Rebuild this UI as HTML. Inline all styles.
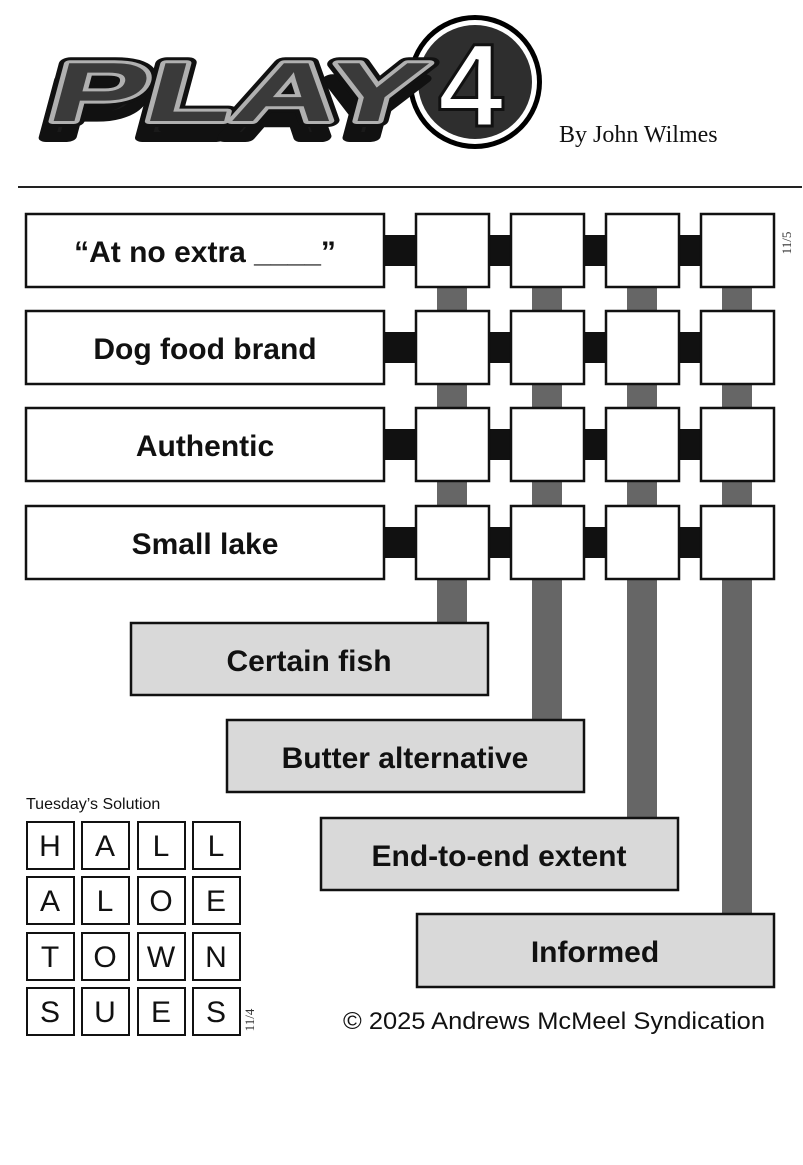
<!DOCTYPE html>
<html><head><meta charset="utf-8"><style>
html,body{margin:0;padding:0;background:#fff;}
svg{display:block;}
</style></head><body>
<svg width="803" height="1165" viewBox="0 0 803 1165" xmlns="http://www.w3.org/2000/svg">
<rect width="803" height="1165" fill="#fff"/>
<g font-family="Liberation Sans, sans-serif" font-weight="bold">
  <circle cx="475" cy="82" r="67" fill="#000"/>
  <circle cx="475" cy="82" r="62" fill="#fff"/>
  <circle cx="475" cy="82" r="57" fill="#2e2e2e"/>
  <text x="438" y="126" font-size="118" fill="#fff" stroke="#111" stroke-width="3">4</text>
  <g transform="translate(22,121) skewX(-15)">
    <text x="20" y="16" font-size="84" fill="#1a1a1a" stroke="#111" stroke-width="10" stroke-linejoin="round" textLength="372" lengthAdjust="spacingAndGlyphs">PLAY</text>
    <text x="22" y="0" font-size="84" fill="#3a3a3a" stroke="#111" stroke-width="12" stroke-linejoin="round" textLength="372" lengthAdjust="spacingAndGlyphs">PLAY</text>
    <text x="22" y="0" font-size="84" fill="#3a3a3a" stroke="#b0b0b0" stroke-width="6" stroke-linejoin="round" textLength="372" lengthAdjust="spacingAndGlyphs">PLAY</text>
    <text x="22" y="0" font-size="84" fill="#3a3a3a" textLength="372" lengthAdjust="spacingAndGlyphs">PLAY</text>
  </g>
</g>
<text x="559" y="142" font-family="Liberation Serif, serif" font-size="24" fill="#111">By John Wilmes</text>
<rect x="18" y="186" width="784" height="2" fill="#222"/>

<g fill="#666">
  <rect x="437" y="287" width="30" height="336"/>
  <rect x="532" y="287" width="30" height="433"/>
  <rect x="627" y="287" width="30" height="531"/>
  <rect x="722" y="287" width="30" height="628"/>
</g>

<g stroke="#111" stroke-width="2.5">
  <g fill="#111" stroke="none">
    <rect x="384" y="235" width="32" height="31"/><rect x="488" y="235" width="23" height="31"/><rect x="583" y="235" width="23" height="31"/><rect x="678" y="235" width="23" height="31"/>
    <rect x="384" y="332" width="32" height="31"/><rect x="488" y="332" width="23" height="31"/><rect x="583" y="332" width="23" height="31"/><rect x="678" y="332" width="23" height="31"/>
    <rect x="384" y="429" width="32" height="31"/><rect x="488" y="429" width="23" height="31"/><rect x="583" y="429" width="23" height="31"/><rect x="678" y="429" width="23" height="31"/>
    <rect x="384" y="527" width="32" height="31"/><rect x="488" y="527" width="23" height="31"/><rect x="583" y="527" width="23" height="31"/><rect x="678" y="527" width="23" height="31"/>
  </g>
  <g fill="#fff">
    <rect x="26" y="214" width="358" height="73"/>
    <rect x="26" y="311" width="358" height="73"/>
    <rect x="26" y="408" width="358" height="73"/>
    <rect x="26" y="506" width="358" height="73"/>
    <rect x="416" y="214" width="73" height="73"/><rect x="511" y="214" width="73" height="73"/><rect x="606" y="214" width="73" height="73"/><rect x="701" y="214" width="73" height="73"/>
    <rect x="416" y="311" width="73" height="73"/><rect x="511" y="311" width="73" height="73"/><rect x="606" y="311" width="73" height="73"/><rect x="701" y="311" width="73" height="73"/>
    <rect x="416" y="408" width="73" height="73"/><rect x="511" y="408" width="73" height="73"/><rect x="606" y="408" width="73" height="73"/><rect x="701" y="408" width="73" height="73"/>
    <rect x="416" y="506" width="73" height="73"/><rect x="511" y="506" width="73" height="73"/><rect x="606" y="506" width="73" height="73"/><rect x="701" y="506" width="73" height="73"/>
  </g>
  <g fill="#d9d9d9">
    <rect x="131" y="623" width="357" height="72"/>
    <rect x="227" y="720" width="357" height="72"/>
    <rect x="321" y="818" width="357" height="72"/>
    <rect x="417" y="914" width="357" height="73"/>
  </g>
</g>
<g font-family="Liberation Sans, sans-serif" font-weight="bold" font-size="30" fill="#111" text-anchor="middle">
  <text x="205" y="262">“At no extra ____”</text>
  <text x="205" y="359">Dog food brand</text>
  <text x="205" y="456">Authentic</text>
  <text x="205" y="554">Small lake</text>
  <text x="309" y="671">Certain fish</text>
  <text x="405" y="768">Butter alternative</text>
  <text x="499" y="866">End-to-end extent</text>
  <text x="595" y="962">Informed</text>
</g>
<text transform="translate(791,243) rotate(-90)" font-family="Liberation Serif, serif" font-size="13" fill="#333" text-anchor="middle">11/5</text>

<text x="26" y="809" font-family="Liberation Sans, sans-serif" font-size="16" fill="#111">Tuesday’s Solution</text>
<g stroke="#111" stroke-width="2" fill="#fff">
  <rect x="27" y="822" width="47" height="47"/><rect x="82" y="822" width="47" height="47"/><rect x="138" y="822" width="47" height="47"/><rect x="193" y="822" width="47" height="47"/>
  <rect x="27" y="877" width="47" height="47"/><rect x="82" y="877" width="47" height="47"/><rect x="138" y="877" width="47" height="47"/><rect x="193" y="877" width="47" height="47"/>
  <rect x="27" y="933" width="47" height="47"/><rect x="82" y="933" width="47" height="47"/><rect x="138" y="933" width="47" height="47"/><rect x="193" y="933" width="47" height="47"/>
  <rect x="27" y="988" width="47" height="47"/><rect x="82" y="988" width="47" height="47"/><rect x="138" y="988" width="47" height="47"/><rect x="193" y="988" width="47" height="47"/>
</g>
<g font-family="Liberation Sans, sans-serif" font-size="30" fill="#111" text-anchor="middle">
  <text x="50" y="856">H</text><text x="105" y="856">A</text><text x="161" y="856">L</text><text x="216" y="856">L</text>
  <text x="50" y="911">A</text><text x="105" y="911">L</text><text x="161" y="911">O</text><text x="216" y="911">E</text>
  <text x="50" y="967">T</text><text x="105" y="967">O</text><text x="161" y="967">W</text><text x="216" y="967">N</text>
  <text x="50" y="1022">S</text><text x="105" y="1022">U</text><text x="161" y="1022">E</text><text x="216" y="1022">S</text>
</g>
<text transform="translate(254,1020) rotate(-90)" font-family="Liberation Serif, serif" font-size="13" fill="#333" text-anchor="middle">11/4</text>

<text x="343" y="1029" font-family="Liberation Sans, sans-serif" font-size="24" fill="#111" textLength="422" lengthAdjust="spacingAndGlyphs">© 2025 Andrews McMeel Syndication</text>
</svg>
</body></html>
